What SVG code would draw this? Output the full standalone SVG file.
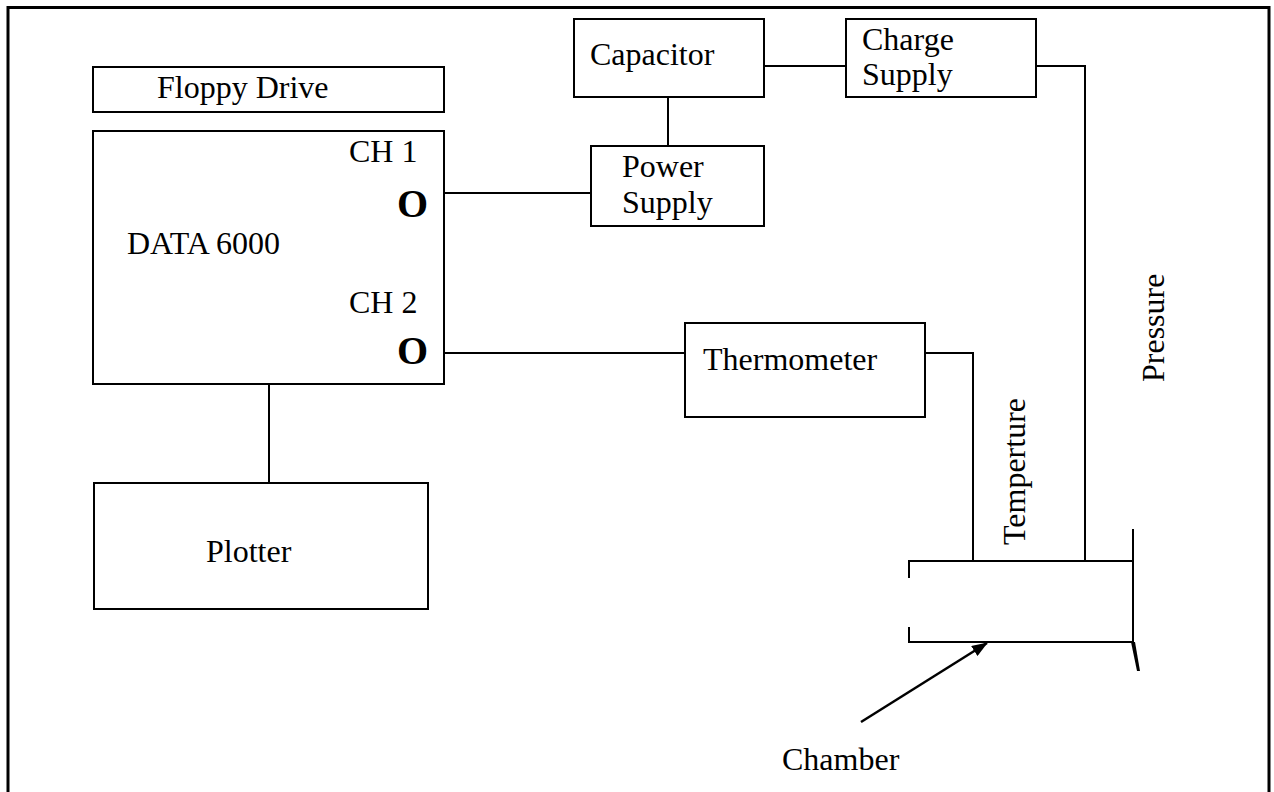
<svg xmlns="http://www.w3.org/2000/svg" width="1274" height="792" viewBox="0 0 1274 792">
<style>
.box{fill:#fff;stroke:#000;stroke-width:2}
.ln{fill:none;stroke:#000;stroke-width:2}
.t{font-family:"Liberation Serif","Times New Roman",serif;font-size:32px;fill:#000}
.o{font-family:"Liberation Serif","Times New Roman",serif;font-size:40px;font-weight:bold;fill:#000}
</style>
<defs>
<marker id="ah" markerWidth="16" markerHeight="12" refX="15" refY="6" orient="auto" markerUnits="userSpaceOnUse" viewBox="0 0 16 12">
<path d="M0,0 L16,6 L0,12 Z" fill="#000"/>
</marker>
</defs>
<rect width="1274" height="792" fill="#fff"/>
<path d="M8,800 V7.5 H1269 V800" fill="none" stroke="#000" stroke-width="3"/>
<g id="connectors">
<line class="ln" x1="269" y1="384" x2="269" y2="483"/>
<line class="ln" x1="428" y1="193" x2="591" y2="193"/>
<line class="ln" x1="428" y1="353" x2="685" y2="353"/>
<line class="ln" x1="668" y1="97" x2="668" y2="146"/>
<line class="ln" x1="764" y1="66" x2="846" y2="66"/>
<path class="ln" d="M925,353 H973 V561"/>
<path class="ln" d="M1036,66 H1085 V561"/>
<line x1="861" y1="722" x2="987" y2="643" stroke="#000" stroke-width="2.5" marker-end="url(#ah)"/>
</g>
<g id="floppy">
<rect class="box" x="93" y="67" width="351" height="45"/>
<text class="t" x="157" y="98">Floppy Drive</text>
</g>
<g id="data6000">
<rect class="box" x="93" y="131" width="351" height="253"/>
<text class="t" x="349" y="162">CH 1</text>
<text class="o" x="428" y="217" text-anchor="end">O</text>
<text class="t" x="127" y="254">DATA 6000</text>
<text class="t" x="349" y="313">CH 2</text>
<text class="o" x="428" y="364" text-anchor="end">O</text>
</g>
<g id="plotter">
<rect class="box" x="94" y="483" width="334" height="126"/>
<text class="t" x="206" y="562">Plotter</text>
</g>
<g id="capacitor">
<rect class="box" x="574" y="19" width="190" height="78"/>
<text class="t" x="590" y="65">Capacitor</text>
</g>
<g id="charge">
<rect class="box" x="846" y="19" width="190" height="78"/>
<text class="t" x="862" y="50">Charge</text>
<text class="t" x="862" y="85">Supply</text>
</g>
<g id="power">
<rect class="box" x="591" y="146" width="173" height="80"/>
<text class="t" x="622" y="177">Power</text>
<text class="t" x="622" y="213">Supply</text>
</g>
<g id="thermometer">
<rect class="box" x="685" y="323" width="240" height="94"/>
<text class="t" x="703" y="370">Thermometer</text>
</g>
<g id="chamber">
<path class="ln" d="M909,578 V561 H1133 M909,627 V642 H1133 M1133,529 V642"/>
<polygon points="1131,642 1135,642 1140,671 1137,671" fill="#000"/>
<text class="t" x="782" y="770">Chamber</text>
</g>
<g id="labels">
<text class="t" transform="translate(1025,545) rotate(-90)">Temperture</text>
<text class="t" transform="translate(1164,382) rotate(-90)">Pressure</text>
</g>
</svg>
